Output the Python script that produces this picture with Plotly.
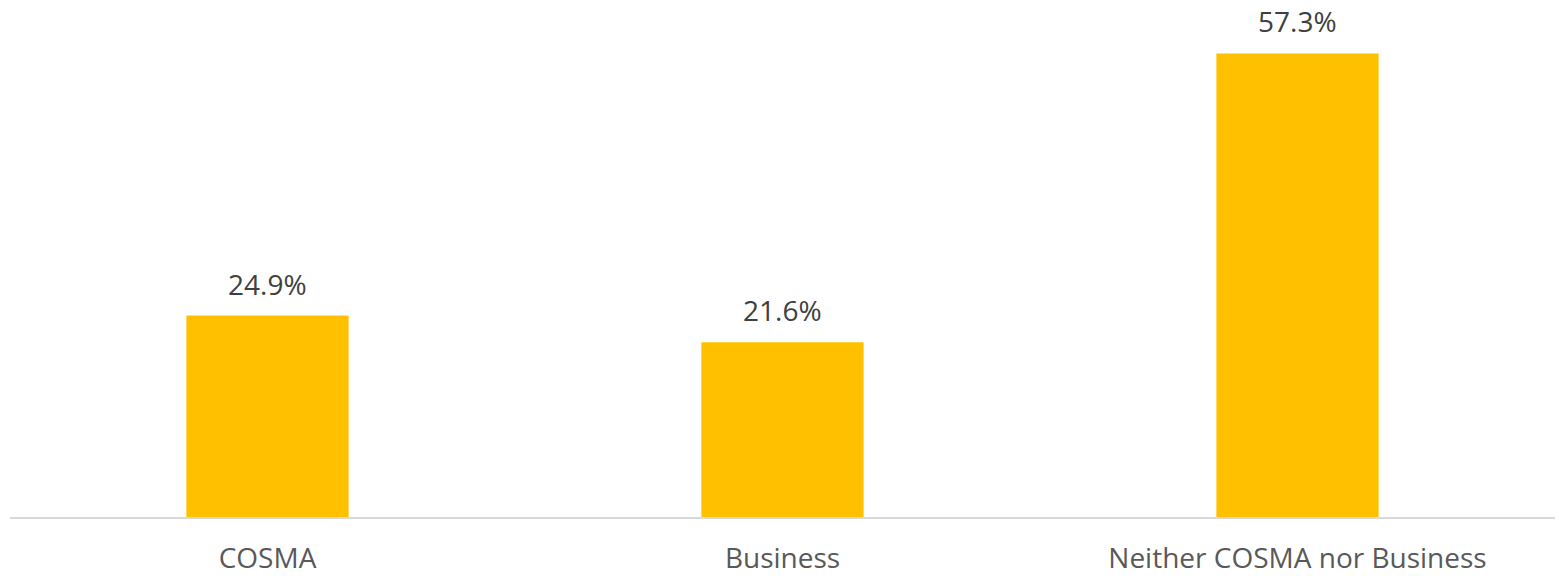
import plotly.graph_objects as go

categories = ["COSMA", "Business", "Neither COSMA nor Business"]
shares = [24.9, 21.6, 57.3]
share_labels = ["24.9%", "21.6%", "57.3%"]

fig = go.Figure(
    go.Bar(
        x=categories,
        y=shares,
        marker=dict(color="#FFC000", line=dict(width=0)),
        cliponaxis=False,
    )
)

# value labels above the bars, a bit higher than plotly's own outside text
for cat, val, lab in zip(categories, shares, share_labels):
    fig.add_annotation(
        x=cat, y=val, text=lab,
        showarrow=False, yanchor="bottom", yshift=11,
        font=dict(size=28, color="#404040"),
    )

fig.update_layout(
    width=1559,
    height=576,
    margin=dict(l=10, r=4, t=0, b=55),
    paper_bgcolor="white",
    plot_bgcolor="white",
    bargap=0.685,
    showlegend=False,
    font=dict(family="Open Sans", color="#595959"),
)

fig.update_xaxes(
    showline=True,
    linecolor="#D9D9D9",
    linewidth=2,
    ticks="",
    ticklabelstandoff=15,
    tickfont=dict(size=28, color="#595959"),
    showgrid=False,
)
fig.update_yaxes(
    range=[0, 63.9],
    visible=False,
    showgrid=False,
)

# drop the default page margin so the figure fills the window exactly
fig.write_html(
    "out.html",
    config={"displayModeBar": False},
    post_script="document.body.style.margin='0';",
)
